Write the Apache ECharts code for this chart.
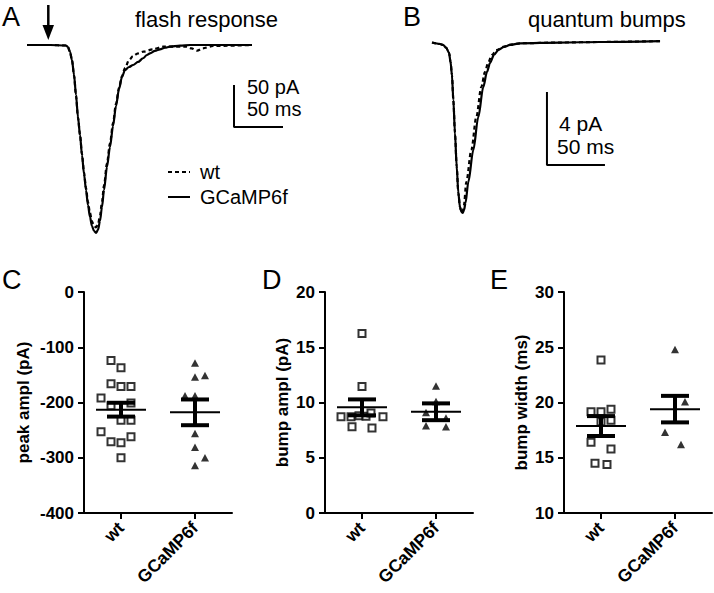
<!DOCTYPE html>
<html><head><meta charset="utf-8">
<script src="https://cdn.jsdelivr.net/npm/echarts@6/dist/echarts.min.js"></script>
<style>html,body{margin:0;padding:0;background:#fff}#c{width:714px;height:593px}</style>
</head><body><div id="c"></div>
<script>
// ---------------- data ----------------
const groups = ['wt', 'GCaMP6f'];

// A: flash response traces (time ms, current pA)
const flashTimeGc = [0,23.5,39.8,41.8,43.9,45.9,48,50,52,54.1,56.1,58.2,60.2,62.2,64.3,66.3,68.4,70.4,72.4,74.5,76.5,78.6,81.6,84.7,87.8,90.8,93.9,96.9,100,104.1,108.2,113.3,118.4,122.4,125.5,130.6,135.7,140.8,145.9,156.1,166.3,229.6];
const flashGcamp  = [0,0,-0.6,-2.4,-8.3,-17.9,-35.7,-59.5,-85.7,-107.1,-131,-153.6,-172.6,-190.5,-204.8,-215.5,-221.4,-223.8,-220.2,-209.5,-192.9,-172.6,-145.2,-121.4,-96.4,-72.6,-52.4,-38.1,-29.8,-26.2,-23.8,-20.2,-15.8,-11.9,-9.9,-7.1,-5.1,-3.3,-2.0,-0.8,0,0];
const flashTimeWt = [0,23.5,39.8,41.8,43.9,45.9,48,50,52,54.1,56.1,58.2,60.2,62.2,64.3,66.3,68.4,70.4,72.4,74.5,76.5,78.6,81.6,84.7,87.8,90.8,93.9,96.9,100,104.1,108.2,113.3,118.7,128.6,138.8,163,168,173.5,179.6,189.8,229.6];
const flashWt     = [0,0,-0.6,-2.4,-8.5,-18,-36,-60,-86,-107,-130,-152,-170,-187,-200,-210,-215,-217,-214,-203,-187,-167,-141,-117,-93,-70,-51,-37,-27.4,-18,-13.1,-10,-8,-5.1,-2,-2,-4,-6.8,-3.9,-1.2,0];

// B: quantum bumps (time ms, current pA)
const bumpTimeGc = [0,6.9,9.5,12.1,14.7,16.0,17.2,18.4,19.8,21.3,22.7,24.1,25.4,26.5,27.6,28.9,31.3,35.6,39.9,44.2,47.4,50.0,53.4,57.2,62.1,67.2,75.9,110.3,144.8,196.6];
const bumpGcamp  = [-0.03,-0.11,-0.16,-0.30,-0.60,-1.10,-1.81,-3.18,-4.99,-6.83,-8.27,-9.04,-9.32,-9.37,-9.21,-8.82,-7.67,-5.92,-4.11,-2.47,-1.64,-1.15,-0.71,-0.44,-0.27,-0.16,-0.07,-0.03,0,0.05];
const bumpTimeWt = [0,6.9,9.5,12.1,14.7,16.0,17.2,18.4,19.8,21.3,22.7,24.1,25.4,26.5,27.5,29.6,33.9,38.2,42.5,45.7,48.3,51.7,55.5,62.1,67.2,75.9,110.3,144.8,196.6];
const bumpWt     = [-0.03,-0.11,-0.16,-0.30,-0.60,-1.10,-1.81,-3.18,-4.99,-6.83,-8.27,-9.04,-9.32,-9.30,-8.95,-7.67,-5.92,-4.11,-2.47,-1.64,-1.15,-0.71,-0.44,-0.25,-0.15,-0.07,-0.03,0,0.05];

// scale bars (data units)
const scaleBarAt = [211.2, 211.2, 261.2];
const scaleBarAi = [-47.6, -97.6, -97.6];
const scaleBarBt = [99.1, 99.1, 149.1];
const scaleBarBi = [-2.74, -6.74, -6.74];

// C: peak amplitude (pA)
const peakWt = [-124,-137,-166,-171,-171,-192,-206,-201,-232,-232,-253,-271,-273,-262,-300];
const peakGc = [-128.5,-154,-151,-188,-188,-256,-281,-300,-314];
const peakMean = [-213, -217.8];
const peakSem = [12.5, 23.3];

// D: bump amplitude (pA)
const bumpAmplWt = [16.25,11.45,8.7,8.7,8.8,8.75,9.05,8.7,7.8,7.7];
const bumpAmplGc = [11.5,10.1,9.1,8.6,7.9,7.8];
const bumpAmplMean = [9.56, 9.16];
const bumpAmplSem = [0.72, 0.76];

// E: bump width (ms)
const bumpWidthWt = [23.85,19.17,19.17,19.4,18.4,18.26,16.4,15.8,14.5,14.4];
const bumpWidthGc = [24.8,20.07,17.3,16.2];
const bumpWidthMean = [17.87, 19.4];
const bumpWidthSem = [0.9, 1.2];

// ---------------- layout (scatter column offsets, in columns) ----------------
const colStep = 0.135;
const peakWtCol = [-1,0,-1,0,1,-2,-1,1,0,1,-2,-1,0,1,0];
const peakGcCol = [0,0,1,-1,0,0,0,1,0];
const bumpAmplWtCol = [0,0,-2.1,-1.1,-0.3,0.4,0.9,2.1,-1,1];
const bumpAmplGcCol = [0,0,-1,1,-1,1];
const bumpWidthWtCol = [0,-1,0,1,1,0,-1,1,-0.6,0.6];
const bumpWidthGcCol = [0,1,-1,0.6];

// ---------------- build ----------------
const zip = (a, b) => a.map((v, i) => [v, b[i]]);
const FONT = '"Liberation Sans", Arial, sans-serif';

function pts(vals, cols, gi) { return vals.map((v, i) => [gi + 0.5 + cols[i] * colStep, v]); }

function errRender(params, api) {
  const x = api.value(0), m = api.value(1), s = api.value(2);
  const c = api.coord([x, m]);
  const hi = api.coord([x, m + s]);
  const lo = api.coord([x, m - s]);
  const st = w => ({stroke: '#000', lineWidth: w});
  return {type: 'group', children: [
    {type: 'line', shape: {x1: c[0]-25, y1: c[1], x2: c[0]+25, y2: c[1]}, style: st(2)},
    {type: 'line', shape: {x1: c[0], y1: hi[1], x2: c[0], y2: lo[1]}, style: st(4)},
    {type: 'line', shape: {x1: c[0]-14, y1: hi[1], x2: c[0]+14, y2: hi[1]}, style: st(4)},
    {type: 'line', shape: {x1: c[0]-14, y1: lo[1], x2: c[0]+14, y2: lo[1]}, style: st(4)}
  ]};
}

const grids = [
  {left: 27, top: 36.6, width: 259.7, height: 201.6},
  {left: 432, top: 32.875, width: 232, height: 191.625},
  {left: 84, top: 292, width: 148, height: 221},
  {left: 325, top: 292, width: 148, height: 221},
  {left: 564, top: 292, width: 148, height: 221}
];

const xAxes = [
  {type: 'value', gridIndex: 0, min: 0, max: 265, show: false},
  {type: 'value', gridIndex: 1, min: 0, max: 200, show: false}
];
const yAxes = [
  {type: 'value', gridIndex: 0, min: -230, max: 10, show: false},
  {type: 'value', gridIndex: 1, min: -10, max: 0.5, show: false}
];
const axisLineStyle = {color: '#000', width: 2};
function addPanel(grid, min, max, interval, name, gap) {
  xAxes.push({type: 'category', gridIndex: grid, data: groups, boundaryGap: true,
    axisLine: {show: true, onZero: false, lineStyle: axisLineStyle},
    axisTick: {show: true, alignWithLabel: true, length: 6, lineStyle: axisLineStyle},
    axisLabel: {rotate: 45, color: '#000', fontWeight: 'bold', fontSize: 17.5, fontFamily: FONT, margin: 12},
    splitLine: {show: false}});
  xAxes.push({type: 'value', gridIndex: grid, min: 0, max: 2, show: false});
  yAxes.push({type: 'value', gridIndex: grid, min, max, interval,
    name, nameLocation: 'middle', nameGap: gap,
    nameTextStyle: {color: '#000', fontWeight: 'bold', fontSize: 17, fontFamily: FONT},
    axisLine: {show: true, onZero: false, lineStyle: axisLineStyle},
    axisTick: {show: true, length: 6, lineStyle: axisLineStyle},
    axisLabel: {color: '#000', fontWeight: 'bold', fontSize: 17, fontFamily: FONT, margin: 10},
    splitLine: {show: false}});
}
addPanel(2, -400, 0, 100, 'peak ampl (pA)', 52);
addPanel(3, 0, 20, 5, 'bump ampl (pA)', 34);
addPanel(4, 10, 30, 5, 'bump width (ms)', 34);

const traceStyle = (dashed) => ({color: '#000', width: 2.2, type: dashed ? [4, 3] : 'solid'});
function trace(xi, t, v, dashed) {
  return {type: 'line', xAxisIndex: xi, yAxisIndex: xi, data: zip(t, v), showSymbol: false,
    smooth: 0.3, smoothMonotone: 'x', lineStyle: traceStyle(dashed), silent: true, z: dashed ? 3 : 2};
}
function bar(xi, t, v) {
  return {type: 'line', xAxisIndex: xi, yAxisIndex: xi, data: zip(t, v), showSymbol: false,
    lineStyle: {color: '#000', width: 2}, silent: true};
}
const square = {symbol: 'rect', symbolSize: 7, itemStyle: {color: '#fff', borderColor: '#000', borderWidth: 2}};
const tri = {symbol: 'triangle', symbolSize: [8, 7.5], itemStyle: {color: '#000'}};
function scat(panel, data, style) {
  return Object.assign({type: 'scatter', xAxisIndex: 2 + panel * 2 + 1, yAxisIndex: 2 + panel, data, silent: true, z: 2}, style);
}
function err(panel, means, sems) {
  return {type: 'custom', xAxisIndex: 2 + panel * 2 + 1, yAxisIndex: 2 + panel,
    data: means.map((m, i) => [i + 0.5, m, sems[i]]), renderItem: errRender, silent: true, z: 5};
}

const series = [
  trace(0, flashTimeGc, flashGcamp, false),
  trace(0, flashTimeWt, flashWt, true),
  bar(0, scaleBarAt, scaleBarAi),
  trace(1, bumpTimeGc, bumpGcamp, false),
  trace(1, bumpTimeWt, bumpWt, true),
  bar(1, scaleBarBt, scaleBarBi),
  scat(0, pts(peakWt, peakWtCol, 0), square),
  scat(0, pts(peakGc, peakGcCol, 1), tri),
  err(0, peakMean, peakSem),
  scat(1, pts(bumpAmplWt, bumpAmplWtCol, 0), square),
  scat(1, pts(bumpAmplGc, bumpAmplGcCol, 1), tri),
  err(1, bumpAmplMean, bumpAmplSem),
  scat(2, pts(bumpWidthWt, bumpWidthWtCol, 0), square),
  scat(2, pts(bumpWidthGc, bumpWidthGcCol, 1), tri),
  err(2, bumpWidthMean, bumpWidthSem)
];

function txt(x, y, text, size, weight) {
  return {type: 'text', x, y, silent: true,
    style: {text, fill: '#000', font: (weight || 'normal') + ' ' + size + 'px ' + FONT, verticalAlign: 'middle', align: 'left'}};
}
const graphic = [
  txt(2, 17, 'A', 27), txt(135, 19, 'flash response', 22),
  txt(403, 17, 'B', 27), txt(528, 19, 'quantum bumps', 22),
  txt(2, 280, 'C', 27), txt(262, 280, 'D', 27), txt(490, 280, 'E', 27),
  txt(247, 87, '50 pA', 20), txt(247, 109, '50 ms', 20),
  txt(559, 123, '4 pA', 21), txt(557, 146, '50 ms', 21),
  txt(200, 172, 'wt', 20), txt(200, 197, 'GCaMP6f', 20),
  {type: 'line', silent: true, shape: {x1: 168, y1: 172, x2: 190, y2: 172}, style: {stroke: '#000', lineWidth: 2, lineDash: [4, 3]}},
  {type: 'line', silent: true, shape: {x1: 168, y1: 197, x2: 190, y2: 197}, style: {stroke: '#000', lineWidth: 2}},
  {type: 'line', silent: true, shape: {x1: 48.3, y1: 5, x2: 48.3, y2: 28}, style: {stroke: '#000', lineWidth: 2.5}},
  {type: 'polygon', silent: true, shape: {points: [[42.5, 25], [54, 25], [48.3, 40]]}, style: {fill: '#000'}}
];

const chart = echarts.init(document.getElementById('c'), null, {renderer: 'svg'});
chart.setOption({animation: false, backgroundColor: '#fff', grid: grids, xAxis: xAxes, yAxis: yAxes, series, graphic});
</script></body></html>
